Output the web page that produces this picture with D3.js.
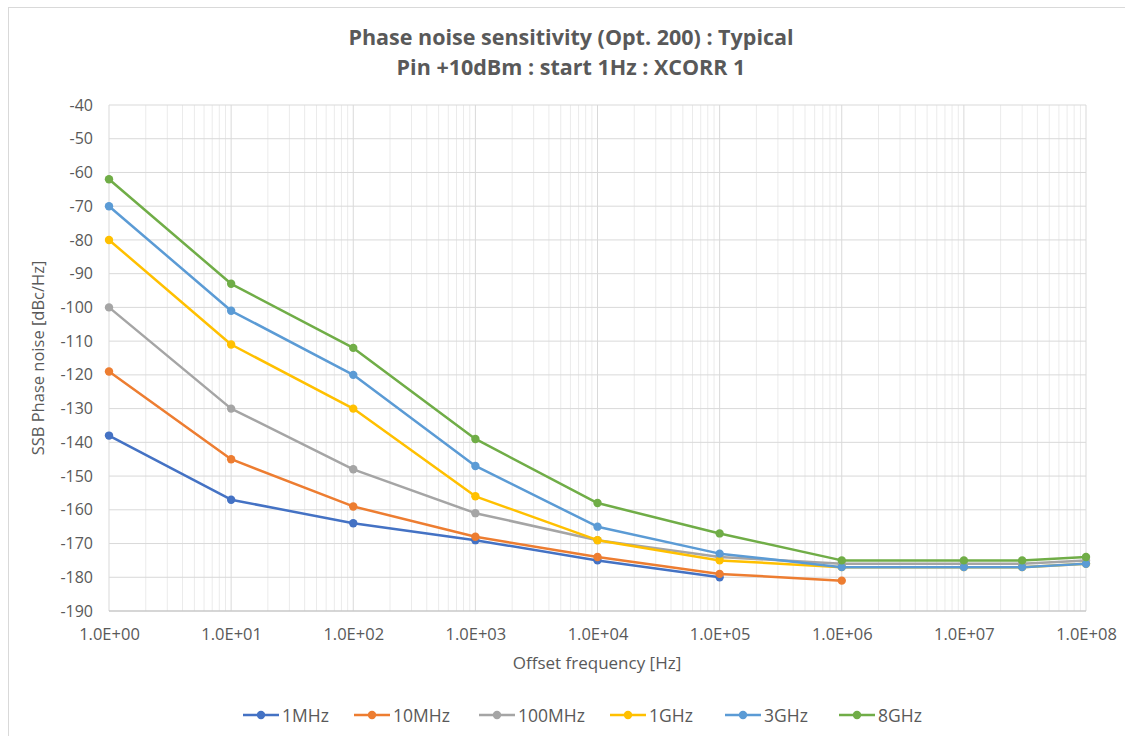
<!DOCTYPE html>
<html><head><meta charset="utf-8">
<script src="https://cdn.jsdelivr.net/npm/d3@7"></script>
<style>body{margin:0;background:#fff;} text{font-family:"Open Sans","Noto Sans",sans-serif;}</style>
</head><body>
<svg id="c" width="1125" height="736"></svg>
<script>
const freqs = [1, 10, 100, 1e3, 1e4, 1e5, 1e6, 1e7, 3e7, 1e8];
const seriesNames = ["1MHz", "10MHz", "100MHz", "1GHz", "3GHz", "8GHz"];
const s1MHz   = [-138, -157, -164, -169, -175, -180];
const s10MHz  = [-119, -145, -159, -168, -174, -179, -181];
const s100MHz = [-100, -130, -148, -161, -169, -174, -176, -176, -176, -175];
const s1GHz   = [-80, -111, -130, -156, -169, -175, -177, -177, -177, -176];
const s3GHz   = [-70, -101, -120, -147, -165, -173, -177, -177, -177, -176];
const s8GHz   = [-62, -93, -112, -139, -158, -167, -175, -175, -175, -174];
const seriesValues = [s1MHz, s10MHz, s100MHz, s1GHz, s3GHz, s8GHz];
const colors = ["#4472C4", "#ED7D31", "#A5A5A5", "#FFC000", "#5B9BD5", "#70AD47"];
const xTickVals = [1, 10, 100, 1e3, 1e4, 1e5, 1e6, 1e7, 1e8];
const xTickLabels = ["1.0E+00","1.0E+01","1.0E+02","1.0E+03","1.0E+04","1.0E+05","1.0E+06","1.0E+07","1.0E+08"];
const yTicks = [-40,-50,-60,-70,-80,-90,-100,-110,-120,-130,-140,-150,-160,-170,-180,-190];
const titleLines = ["Phase noise sensitivity (Opt. 200) : Typical", "Pin +10dBm : start 1Hz : XCORR 1"];

const svg = d3.select("#c");
const L = 109, R = 1086, T = 105, B = 611;
const x = d3.scaleLog().domain([1, 1e8]).range([L, R]);
const y = d3.scaleLinear().domain([-190, -40]).range([B, T]);
const txt = "#595959";

// chart border
svg.append("rect").attr("x", 8.5).attr("y", 7.5).attr("width", 1130).attr("height", 740)
  .attr("fill", "none").attr("stroke", "#d9d9d9");

// minor gridlines
const minor = [];
for (let e = 0; e < 8; e++) for (let k = 2; k <= 9; k++) minor.push(k * Math.pow(10, e));
svg.append("g").selectAll("line").data(minor).join("line")
  .attr("x1", d => x(d)).attr("x2", d => x(d)).attr("y1", T).attr("y2", B)
  .attr("stroke", "#ebebeb").attr("stroke-width", 1);
// horizontal gridlines
svg.append("g").selectAll("line").data(yTicks).join("line")
  .attr("x1", L).attr("x2", R).attr("y1", d => y(d)).attr("y2", d => y(d))
  .attr("stroke", "#d9d9d9").attr("stroke-width", 1);
// major vertical gridlines
svg.append("g").selectAll("line").data(xTickVals).join("line")
  .attr("x1", d => x(d)).attr("x2", d => x(d)).attr("y1", T).attr("y2", B)
  .attr("stroke", "#d9d9d9").attr("stroke-width", 1);
// bottom axis line
svg.append("line").attr("x1", L).attr("x2", R).attr("y1", B).attr("y2", B)
  .attr("stroke", "#bfbfbf").attr("stroke-width", 1.2);

// axes (labels only)
const xAxis = d3.axisBottom(x).tickValues(xTickVals).tickFormat((d, i) => xTickLabels[i]).tickSize(0).tickPadding(17);
const gx = svg.append("g").attr("transform", `translate(0,${B})`).call(xAxis);
gx.select(".domain").remove();
gx.selectAll("text").attr("fill", txt).attr("font-size", 16.5).style("font-family", "'Open Sans',sans-serif");

const yAxis = d3.axisLeft(y).tickValues(yTicks).tickFormat(d => String(d)).tickSize(0).tickPadding(16);
const gy = svg.append("g").attr("transform", `translate(${L},0)`).call(yAxis);
gy.select(".domain").remove();
gy.selectAll("text").attr("fill", txt).attr("font-size", 16).style("font-family", "'Open Sans',sans-serif");

// titles
svg.append("g").selectAll("text").data(titleLines).join("text")
  .attr("x", 571).attr("y", (d, i) => 45 + i * 30).attr("text-anchor", "middle")
  .attr("font-size", 21.5).attr("font-weight", "bold").attr("fill", txt).text(d => d);

svg.append("text").attr("x", 597).attr("y", 669).attr("text-anchor", "middle")
  .attr("font-size", 17).attr("fill", txt).text("Offset frequency [Hz]");
svg.append("text").attr("transform", "translate(44,358) rotate(-90)").attr("text-anchor", "middle")
  .attr("font-size", 16.5).attr("fill", txt).text("SSB Phase noise [dBc/Hz]");

// series
const line = d3.line().x((d, i) => x(freqs[i])).y(d => y(d));
seriesValues.forEach((vals, si) => {
  const g = svg.append("g");
  g.append("path").attr("d", line(vals)).attr("fill", "none")
    .attr("stroke", colors[si]).attr("stroke-width", 2.5).attr("stroke-linejoin", "round");
  g.selectAll("circle").data(vals).join("circle")
    .attr("cx", (d, i) => x(freqs[i])).attr("cy", d => y(d)).attr("r", 4.2).attr("fill", colors[si]);
});

// legend
const legX = [243, 354, 479, 610, 725, 839];
const lg = svg.append("g").selectAll("g").data(seriesNames).join("g")
  .attr("transform", (d, i) => `translate(${legX[i]},715)`);
lg.append("line").attr("x1", 0).attr("x2", 36).attr("y1", 0).attr("y2", 0)
  .attr("stroke", (d, i) => colors[i]).attr("stroke-width", 2.5);
lg.append("circle").attr("cx", 18).attr("cy", 0).attr("r", 4.2).attr("fill", (d, i) => colors[i]);
lg.append("text").attr("x", 39).attr("y", 6.5).attr("font-size", 17.5).attr("fill", txt).text(d => d);
</script>
</body></html>
